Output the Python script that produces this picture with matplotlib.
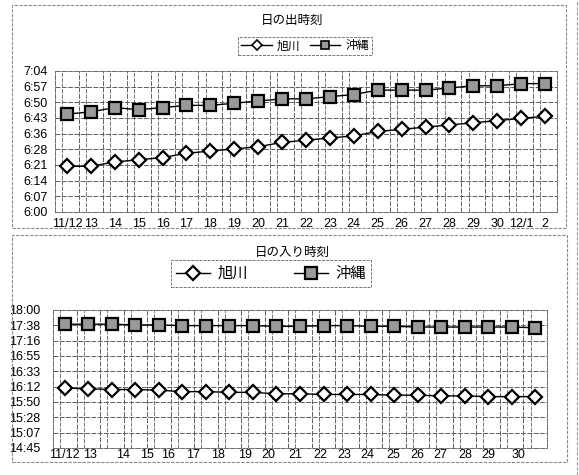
import numpy as np
import matplotlib
matplotlib.use("Agg")
import matplotlib.pyplot as plt
from matplotlib.lines import Line2D
from matplotlib.patches import Rectangle

plt.rcParams['font.family'] = ['Liberation Sans', 'Noto Sans CJK JP', 'DejaVu Sans']
JP = ['Noto Sans CJK JP', 'DejaVu Sans']

# ---- data -------------------------------------------------------------
rise_labels = ["11/12", "13", "14", "15", "16", "17", "18", "19", "20", "21",
               "22", "23", "24", "25", "26", "27", "28", "29", "30", "12/1", "2"]
rise_asahikawa = ["6:21", "6:21", "6:23", "6:24", "6:25", "6:27", "6:28", "6:29",
                  "6:30", "6:32", "6:33", "6:34", "6:35", "6:37", "6:38", "6:39",
                  "6:40", "6:41", "6:42", "6:43", "6:44"]
rise_okinawa = ["6:45", "6:46", "6:48", "6:47", "6:48", "6:49", "6:49", "6:50",
                "6:51", "6:52", "6:52", "6:53", "6:54", "6:56", "6:56", "6:56",
                "6:57", "6:58", "6:58", "6:59", "6:59"]

set_labels = ["11/12", "13", "14", "15", "16", "17", "18", "19", "20", "21",
              "22", "23", "24", "25", "26", "27", "28", "29", "30"]
set_asahikawa = ["16:10", "16:09", "16:08", "16:08", "16:07", "16:05", "16:05",
                 "16:04", "16:04", "16:02", "16:02", "16:01", "16:01", "16:01",
                 "16:00", "16:00", "15:59", "15:59", "15:58", "15:58", "15:58"]
set_okinawa = ["17:40", "17:40", "17:40", "17:39", "17:39", "17:38", "17:38",
               "17:38", "17:38", "17:37", "17:37", "17:38", "17:38", "17:37",
               "17:37", "17:36", "17:36", "17:36", "17:36", "17:36", "17:35"]

series_names = ["旭川", "沖縄"]

# where the sunset date labels sit along the category axis
set_label_pos = [0.0, 1.06, 2.47, 3.49, 4.38, 5.45, 6.51, 7.66, 8.64, 9.79,
                 10.85, 11.87, 12.85, 13.96, 14.98, 15.96, 17.02, 18.0, 19.28]


def to_min(s):
    h, m = s.split(":")
    return int(h) * 60 + int(m)


def fmt(m):
    m = int(np.floor(m + 1e-6))
    return f"{m // 60}:{m % 60:02d}"


W, H = 579, 475
fig = plt.figure(figsize=(W / 100, H / 100), dpi=100)
fig.patch.set_facecolor("white")

GRID = "#5e5e5e"
DASH = (0, (5, 1.5))


def px_axes(left, top, right, bottom):
    return fig.add_axes([left / W, 1 - bottom / H, (right - left) / W, (bottom - top) / H])


def panel_box(x0, y0, x1, y1):
    fig.patches.append(Rectangle((x0 / W, 1 - y1 / H), (x1 - x0) / W, (y1 - y0) / H,
                                 transform=fig.transFigure, fill=False,
                                 edgecolor="#8a8a8a", linewidth=0.8,
                                 linestyle=(0, (3, 1.2))))


def draw_panel(ax, a_vals, o_vals, ymin, step, n_ticks):
    x = np.arange(len(a_vals))
    a = np.array([to_min(v) for v in a_vals])
    o = np.array([to_min(v) for v in o_vals])
    ax.set_xlim(-0.5, len(a_vals) - 0.5)
    ymax = ymin + step * (n_ticks - 1)
    ax.set_ylim(ymin, ymax)
    yt = ymin + step * np.arange(n_ticks)
    ax.set_yticks(yt)
    ax.set_yticklabels([fmt(v) for v in yt])
    # grid
    for v in yt[1:-1]:
        ax.axhline(v, color=GRID, lw=0.7, ls=DASH, zorder=1)
    for i in range(len(a_vals)):
        ax.axvline(i + 0.5, color=GRID, lw=0.7, ls=DASH, zorder=1)
        ax.axvline(i - 0.2, color=GRID, lw=0.6, ls=DASH, zorder=1)
    ax.plot(x, a, color="black", lw=1.0, marker="D", ms=7, mfc="white",
            mec="black", mew=1.6, zorder=3)
    ax.plot(x, o, color="black", lw=1.0, marker="s", ms=8, mfc="#9a9a9a",
            mec="black", mew=1.6, zorder=3)
    for sp in ax.spines.values():
        sp.set_color("#6a6a6a")
        sp.set_linewidth(0.7)
        sp.set_linestyle(DASH)
    ax.tick_params(length=0, labelsize=9)


# ---- sunrise ---------------------------------------------------------
panel_box(12, 5, 566, 228)
ax1 = px_axes(55, 71, 557, 212)
draw_panel(ax1, rise_asahikawa, rise_okinawa, 360, 7.2, 10)
ax1.set_xticks(np.arange(len(rise_labels)))
ax1.set_xticklabels(rise_labels)
ax1.tick_params(axis="y", pad=5)
ax1.tick_params(axis="x", pad=4)
fig.text(292 / W, 1 - 20 / H, "日の出時刻", ha="center", va="center",
         fontsize=9, family=JP)

h_a = Line2D([], [], color="black", lw=1.0, marker="D", ms=5, mfc="white", mec="black", mew=1.2)
h_o = Line2D([], [], color="black", lw=1.0, marker="s", ms=6, mfc="#9a9a9a", mec="black", mew=1.2)
leg1 = fig.legend([h_a, h_o], series_names, loc="center", ncol=2,
                  bbox_to_anchor=(305 / W, 1 - 46 / H), frameon=True, fancybox=False,
                  prop={"family": JP, "size": 8.5}, handlelength=2.6, handletextpad=0.4,
                  columnspacing=0.8, borderpad=0.25, borderaxespad=0)
leg1.get_frame().set_edgecolor("#555555")
leg1.get_frame().set_linewidth(0.7)
leg1.get_frame().set_linestyle((0, (3, 1.2)))

# ---- sunset ----------------------------------------------------------
panel_box(12, 235, 567, 462)
ax2 = px_axes(53, 310, 547, 448)
draw_panel(ax2, set_asahikawa, set_okinawa, 885.6, 21.6, 10)
ax2.set_xticks(set_label_pos)
ax2.set_xticklabels(set_labels)
ax2.tick_params(axis="y", pad=9)
ax2.tick_params(axis="x", pad=1)
fig.text(292 / W, 1 - 252 / H, "日の入り時刻", ha="center", va="center",
         fontsize=9, family=JP)

h_a2 = Line2D([], [], color="black", lw=1.0, marker="D", ms=7, mfc="white", mec="black", mew=1.6)
h_o2 = Line2D([], [], color="black", lw=1.0, marker="s", ms=8, mfc="#9a9a9a", mec="black", mew=1.6)
leg2 = fig.legend([h_a2, h_o2], series_names, loc="center", ncol=2,
                  bbox_to_anchor=(271 / W, 1 - 273.5 / H), frameon=True, fancybox=False,
                  prop={"family": JP, "size": 11}, handlelength=2.2, handletextpad=0.5,
                  columnspacing=3.0, borderpad=0.35, borderaxespad=0)
leg2.get_frame().set_edgecolor("#555555")
leg2.get_frame().set_linewidth(0.7)
leg2.get_frame().set_linestyle((0, (3, 1.2)))

# scanner edge on the right
fig.add_artist(Line2D([577 / W, 577 / W], [0, 1], transform=fig.transFigure,
                      color="#9a9a9a", lw=0.8, ls=(0, (3, 1.5))))

fig.savefig("out.png", dpi=100, facecolor="white")
